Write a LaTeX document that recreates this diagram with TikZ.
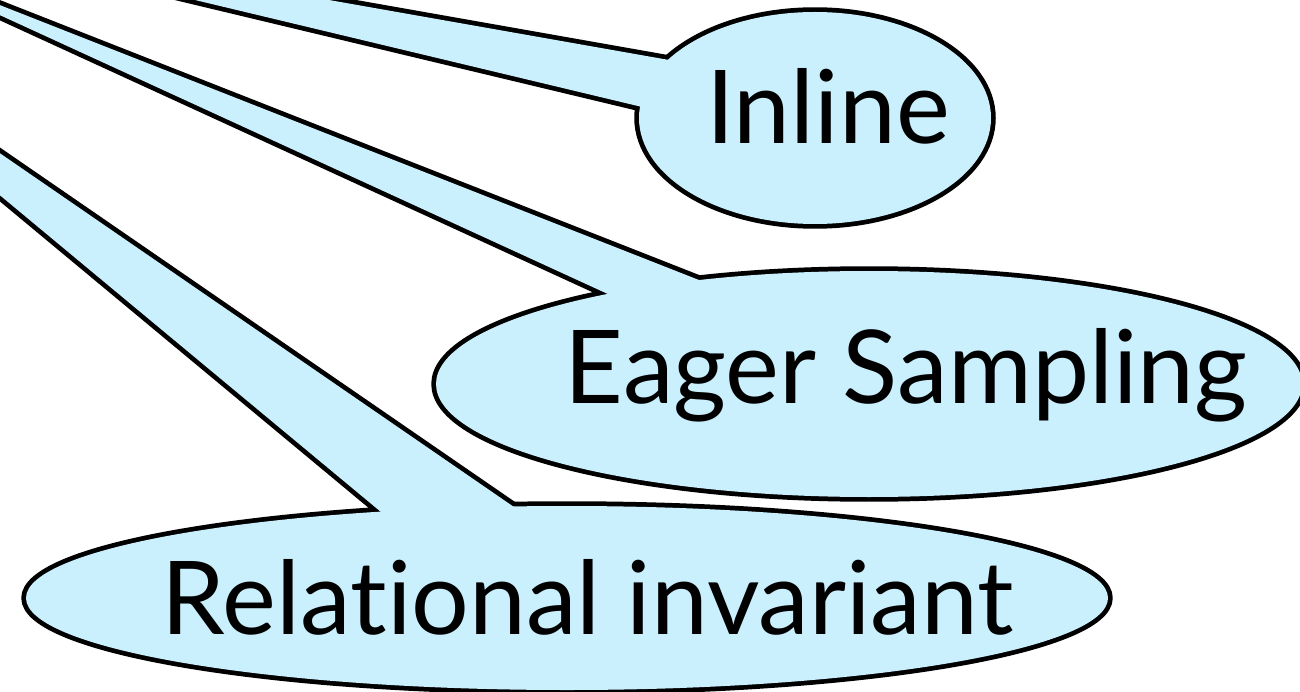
\documentclass[tikz,border=0pt]{standalone}
\usepackage{fontspec}
\setmainfont{Lato}[Ligatures={NoCommon,NoContextual}]
\definecolor{bubble}{RGB}{202,239,253}

\begin{document}
\begin{tikzpicture}[x=0.02cm,y=-0.02cm,
    bubblerim/.style={draw=black,line width=5.4pt,line join=round},
    bubblefill/.style={fill=bubble},
    callouttext/.style={inner sep=0pt,anchor=base,font=\fontsize{58}{68}\selectfont}]
                \useasboundingbox (0,0) rectangle (1300,692);
                \clip (0,0) rectangle (1300,692);
                % outlines first, fill on top
                \draw [bubblerim] (-181,-90) -- (669,60) -- (642,107) -- cycle;
                \draw [bubblerim] (815,118) ellipse [x radius=176, y radius=106];
                \fill [bubblefill] (-181,-90) -- (669,60) -- (642,107) -- cycle;
                \fill [bubblefill] (815,118) ellipse [x radius=176, y radius=106];
                \draw [bubblerim] (-153,-55) -- (704,282) -- (610,295) -- cycle;
                \draw [bubblerim] (869,384) ellipse [x radius=433, y radius=113];
                \fill [bubblefill] (-153,-55) -- (704,282) -- (610,295) -- cycle;
                \fill [bubblefill] (869,384) ellipse [x radius=433, y radius=113];
                \draw [bubblerim] (-294,-49) -- (514,507) -- (381,512) -- cycle;
                \draw [bubblerim] (567,598) ellipse [x radius=541, y radius=92];
                \fill [bubblefill] (-294,-49) -- (514,507) -- (381,512) -- cycle;
                \fill [bubblefill] (567,598) ellipse [x radius=541, y radius=92];
                \node [callouttext] (inline) at (828,144) {Inline};
                \node [callouttext] (eager) at (906,403) {Eager Sampling};
                \node [callouttext] (relational) at (588,634) {Relational invariant};
\end{tikzpicture}
\end{document}
